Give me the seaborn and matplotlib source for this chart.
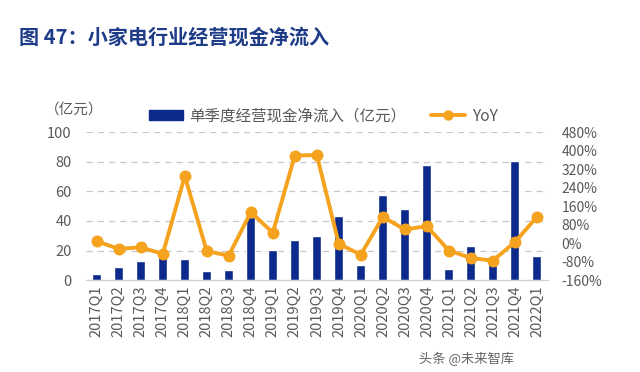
import matplotlib
matplotlib.use("Agg")
import matplotlib.pyplot as plt
import seaborn as sns
from matplotlib.lines import Line2D
from matplotlib.patches import Patch
from matplotlib.ticker import FuncFormatter, MultipleLocator

quarters = [
    "2017Q1", "2017Q2", "2017Q3", "2017Q4",
    "2018Q1", "2018Q2", "2018Q3", "2018Q4",
    "2019Q1", "2019Q2", "2019Q3", "2019Q4",
    "2020Q1", "2020Q2", "2020Q3", "2020Q4",
    "2021Q1", "2021Q2", "2021Q3", "2021Q4",
    "2022Q1",
]
# 单季度经营现金净流入（亿元）
cash_flow = [4, 9, 13, 17.5, 14, 6, 6.5, 42.5, 20.5, 27, 30, 43.5,
             10.5, 57.5, 48, 77.5, 7.5, 23, 12, 80.5, 16]
# YoY (%)
yoy = [8, -25, -18, -47, 290, -35, -54, 134, 45, 378, 381, -3,
       -50, 113, 59, 73, -32, -64, -76, 4, 113]

BLUE = "#0B2A8C"
ORANGE = "#F5A31F"
GREY = "#595959"

sns.set_style("white")
plt.rcParams["font.family"] = ["Noto Sans CJK SC", "DejaVu Sans"]

fig = plt.figure(figsize=(6.4, 3.72), dpi=100)
ax = fig.add_axes([0.134, 0.247, 0.722, 0.398])

sns.barplot(x=quarters, y=cash_flow, color=BLUE, width=0.4, saturation=1, ax=ax)
ax.set_ylim(0, 100)
ax.yaxis.set_major_locator(MultipleLocator(20))
ax.grid(axis="y", color="#C8C8C8", linestyle=(0, (5, 4)), linewidth=0.9)
ax.set_axisbelow(True)
for side in ["top", "right", "left"]:
    ax.spines[side].set_visible(False)
ax.spines["bottom"].set_color("#D0D0D0")
ax.tick_params(axis="x", rotation=90, labelsize=10.5, colors=GREY, length=0, pad=4)
ax.tick_params(axis="y", labelsize=10.5, colors=GREY, length=0, pad=10)
ax.set_xlim(-0.5, len(quarters) - 0.5)

ax2 = ax.twinx()
sns.pointplot(x=quarters, y=yoy, color=ORANGE, markers="o", linewidth=2.8,
              markersize=6.5, ax=ax2)
ax2.set_ylim(-160, 480)
ax2.yaxis.set_major_locator(MultipleLocator(80))
ax2.yaxis.set_major_formatter(FuncFormatter(lambda v, _: f"{v:.0f}%"))
ax2.tick_params(axis="y", labelsize=10, colors=GREY, length=0, pad=10)
for side in ["top", "right", "left", "bottom"]:
    ax2.spines[side].set_visible(False)
ax2.set_xlim(-0.5, len(quarters) - 0.5)
ax2.set_ylabel("")

handles = [
    Patch(facecolor=BLUE, edgecolor=BLUE),
    Line2D([0], [0], color=ORANGE, linewidth=2.8, marker="o", markersize=6.5),
]
fig.legend(handles, ["单季度经营现金净流入（亿元）", "YoY"], loc="center",
           bbox_to_anchor=(0.505, 0.688), ncol=2, frameon=False, fontsize=11.2,
           handlelength=2.2, handleheight=0.6, columnspacing=1.6,
           labelcolor=GREY, handletextpad=0.4)

fig.text(0.07, 0.705, "（亿元）", fontsize=10.5, color=GREY, va="center")
fig.text(0.03, 0.90, "图 47：小家电行业经营现金净流入", fontsize=14.5,
         fontweight="bold", color="#1F3C88", va="center")
fig.text(0.655, 0.035, "头条 @未来智库", fontsize=9.5, color="#666666", va="center")

fig.savefig("out.png", dpi=100)
